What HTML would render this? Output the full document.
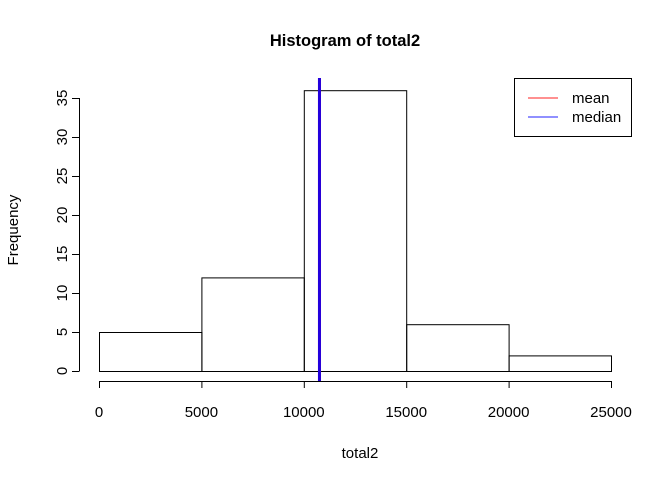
<!DOCTYPE html>
<html><head><meta charset="utf-8"><style>body{margin:0;background:#fff}svg{display:block;font-family:"Liberation Sans",Arial,sans-serif}</style></head>
<body>
<svg id="c" width="672" height="480">
<text x="345" y="46" text-anchor="middle" font-size="16.5" font-weight="bold">Histogram of total2</text>
<text x="360" y="458" text-anchor="middle" font-size="15">total2</text>
<text transform="translate(18,230) rotate(-90)" text-anchor="middle" font-size="15">Frequency</text>
<g id="bars"></g><g id="xax"></g><g id="yax"></g>
<g>
<rect x="514.5" y="78.5" width="117" height="58" fill="#fff" stroke="#000"/>
<line x1="528" y1="98" x2="558" y2="98" stroke="#ff4d4d" stroke-width="1.2"/>
<text x="572" y="103" font-size="15">mean</text>
<line x1="528" y1="117" x2="558" y2="117" stroke="#4d4dff" stroke-width="1.2"/>
<text x="572" y="122" font-size="15">median</text>
</g>
</svg>
<script>
const binEdges=[0,5000,10000,15000,20000,25000];
const counts=[5,12,36,6,2];
const xTicks=[0,5000,10000,15000,20000,25000];
const yTicks=[0,5,10,15,20,25,30,35];
const meanVal=10766, medianVal=10765;
const X=v=>99+v*512/25000, Y=v=>371-v*7.8;
const NS="http://www.w3.org/2000/svg";
function mk(p,t,a){const e=document.createElementNS(NS,t);for(const k in a)e.setAttribute(k,a[k]);p.appendChild(e);return e;}
const svg=document.getElementById('c');
const bars=document.getElementById('bars');
counts.forEach((c,i)=>{const r=mk(bars,'rect',{x:X(binEdges[i])+.5,y:Y(c)+.5,width:X(binEdges[i+1])-X(binEdges[i]),height:Y(0)-Y(c),fill:'none',stroke:'#000'});

});
const xa=document.getElementById('xax');
mk(xa,'line',{x1:X(0),x2:X(25000),y1:381.5,y2:381.5,stroke:'#000'});
xTicks.forEach(t=>{mk(xa,'line',{x1:X(t)+.5,x2:X(t)+.5,y1:381,y2:388,stroke:'#000'});
const tx=mk(xa,'text',{x:X(t),y:417,'text-anchor':'middle','font-size':15});tx.textContent=t;

});
const ya=document.getElementById('yax');
mk(ya,'line',{x1:79.5,x2:79.5,y1:Y(0),y2:Y(35),stroke:'#000'});
yTicks.forEach(t=>{mk(ya,'line',{x1:72,x2:79.5,y1:Y(t)+.5,y2:Y(t)+.5,stroke:'#000'});
const tx=mk(ya,'text',{transform:`translate(67,${Y(t)}) rotate(-90)`,'text-anchor':'middle','font-size':15});tx.textContent=t;

});
const m=mk(svg,'line',{x1:X(meanVal),x2:X(meanVal),y1:78,y2:381,stroke:'#ff0000','stroke-width':3});


const md=mk(svg,'line',{x1:X(medianVal),x2:X(medianVal),y1:78,y2:381,stroke:'#2200dd','stroke-width':3});


</script>
</body></html>
